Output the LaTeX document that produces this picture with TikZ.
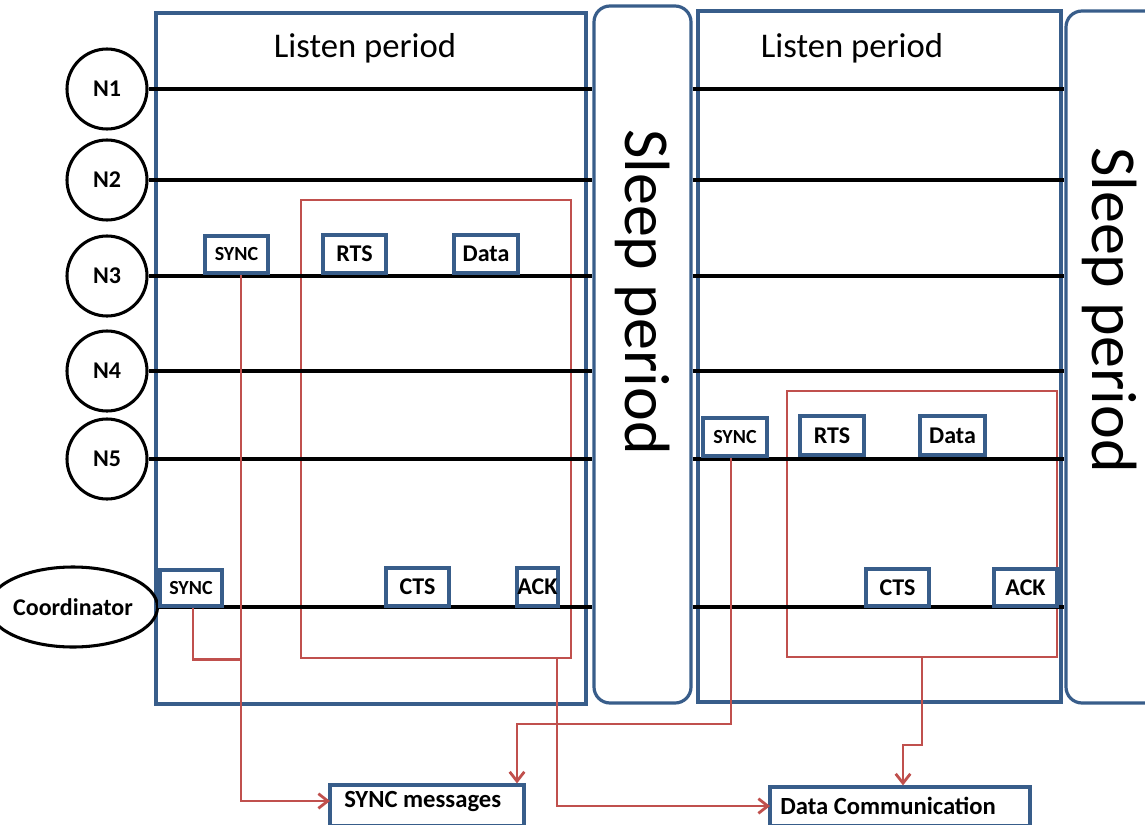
\documentclass[tikz,border=0pt]{standalone}
\usepackage{fontspec}
\setmainfont{Carlito}
\usetikzlibrary{fit,arrows.meta,shapes.geometric}
\definecolor{frameblue}{RGB}{56,93,138}
\definecolor{linkred}{RGB}{192,80,77}

\begin{document}
\begin{tikzpicture}[x=0.75pt,y=-0.75pt,
  period/.style={draw=frameblue, line width=2.4pt, inner sep=0pt},
  sleepbox/.style={period, rounded corners=12pt},
  station/.style={draw=black, line width=2.3pt, circle, minimum size=60pt, inner sep=0pt,
                  font=\fontsize{18}{18}\selectfont\bfseries},
  timeline/.style={line width=3.6pt},
  window/.style={draw=linkred, line width=2.1pt, inner sep=0pt},
  msg/.style={draw=frameblue, line width=2.4pt, fill=white, inner sep=0pt},
  msgtext/.style={font=\fontsize{18}{18}\selectfont\bfseries, inner sep=0pt},
  smalltext/.style={font=\fontsize{15}{15}\selectfont\bfseries, inner sep=0pt},
  legendtext/.style={font=\fontsize{18.5}{18.5}\selectfont\bfseries, inner sep=0pt, anchor=west},
  link/.style={draw=linkred, line width=2.1pt},
  arrowlink/.style={link, -{Straight Barb[length=7pt,width=11pt,line width=2.1pt]}},
  caption/.style={font=\fontsize{26}{26}\selectfont},
  sleepcaption/.style={font=\fontsize{48}{48}\selectfont, rotate=-90}]

\useasboundingbox (0,0) rectangle (1145,824);

% listen and sleep periods
\node[period, fit={(156,13) (586,704)}] (listen1) {};
\node[sleepbox, fit={(594,6) (691,703)}] (sleep1) {};
\node[period, fit={(698,11) (1061,702)}] (listen2) {};
\node[sleepbox, fit={(1066,11) (1180,703)}] (sleep2) {};

\node[caption] (lp1) at (365,48) {Listen period};
\node[caption] (lp2) at (852,48) {Listen period};
\node[sleepcaption] (sp1) at (643,292) {Sleep period};
\node[sleepcaption] (sp2) at (1110,310) {Sleep period};

% contention windows
\node[window, fit={(301,200) (571,658)}] (win1) {};
\node[window, fit={(787,391) (1057,657)}] (win2) {};

% stations
\node[station] (n1) at (107,89) {N1};
\node[station] (n2) at (107,180) {N2};
\node[station] (n3) at (107,276) {N3};
\node[station] (n4) at (107,371) {N4};
\node[station] (n5) at (107,459) {N5};
\node[station, ellipse, minimum width=93pt, minimum height=60pt] (co) at (73,607) {Coordinator};

% time lines, interrupted by the sleep periods
\foreach \s in {n1,n2,n3,n4,n5,co}{
  \draw[timeline] (\s.east) -- (\s.east -| sleep1.west);
  \draw[timeline] (\s.east -| sleep1.east) -- (\s.east -| sleep2.west);
}

% frames of the first cycle
\node[msg, fit={(205,236) (268,273)}, label={[smalltext]center:SYNC}] (sync3) {};
\node[msg, fit={(323,235) (386,273)}, label={[msgtext]center:RTS}] (rts1) {};
\node[msg, fit={(454,235) (518,273)}, label={[msgtext]center:Data}] (data1) {};
\node[msg, fit={(160,570) (222,606)}, label={[smalltext]center:SYNC}] (syncc) {};
\node[msg, fit={(386,568) (449,606)}, label={[msgtext]center:CTS}] (cts1) {};
\node[msg, fit={(517,568) (558,606)}, label={[msgtext]center:ACK}] (ack1) {};

% frames of the second cycle
\node[msg, fit={(703,418) (767,456)}, label={[smalltext]center:SYNC}] (sync5) {};
\node[msg, fit={(800,416) (864,455)}, label={[msgtext]center:RTS}] (rts2) {};
\node[msg, fit={(920,416) (985,455)}, label={[msgtext]center:Data}] (data2) {};
\node[msg, fit={(866,569) (929,606)}, label={[msgtext]center:CTS}] (cts2) {};
\node[msg, fit={(994,569) (1057,606)}, label={[msgtext]center:ACK}] (ack2) {};

% legend boxes
\node[msg, fit={(330,785) (524,826)}] (syncmsg) {};
\node[legendtext] (syncmsgtext) at (344,801) {SYNC messages};
\node[msg, fit={(770,787) (1030,826)}] (datacomm) {};
\node[legendtext] (datacommtext) at (780,806) {Data Communication};

% bend points of the connectors
\coordinate (s3out) at (241,275);
\coordinate (scout) at (193,608);
\coordinate (s5out) at (731,458);
\coordinate (w1out) at (557,658);
\coordinate (b1) at (517,724);
\coordinate (w2out) at (922,657);
\coordinate (b2) at (903,745);
\coordinate (in1) at (330,801);
\coordinate (in2) at (770,806);

% connectors
\draw[link] (scout) |- (s3out |- win1.south);
\draw[arrowlink] (s3out) |- (in1);
\draw[arrowlink] (w1out) |- (in2);
\draw[arrowlink] (s5out) |- (b1) -- (b1 |- syncmsg.north);
\draw[arrowlink] (w2out) |- (b2) -- (b2 |- datacomm.north);

\end{tikzpicture}
\end{document}
